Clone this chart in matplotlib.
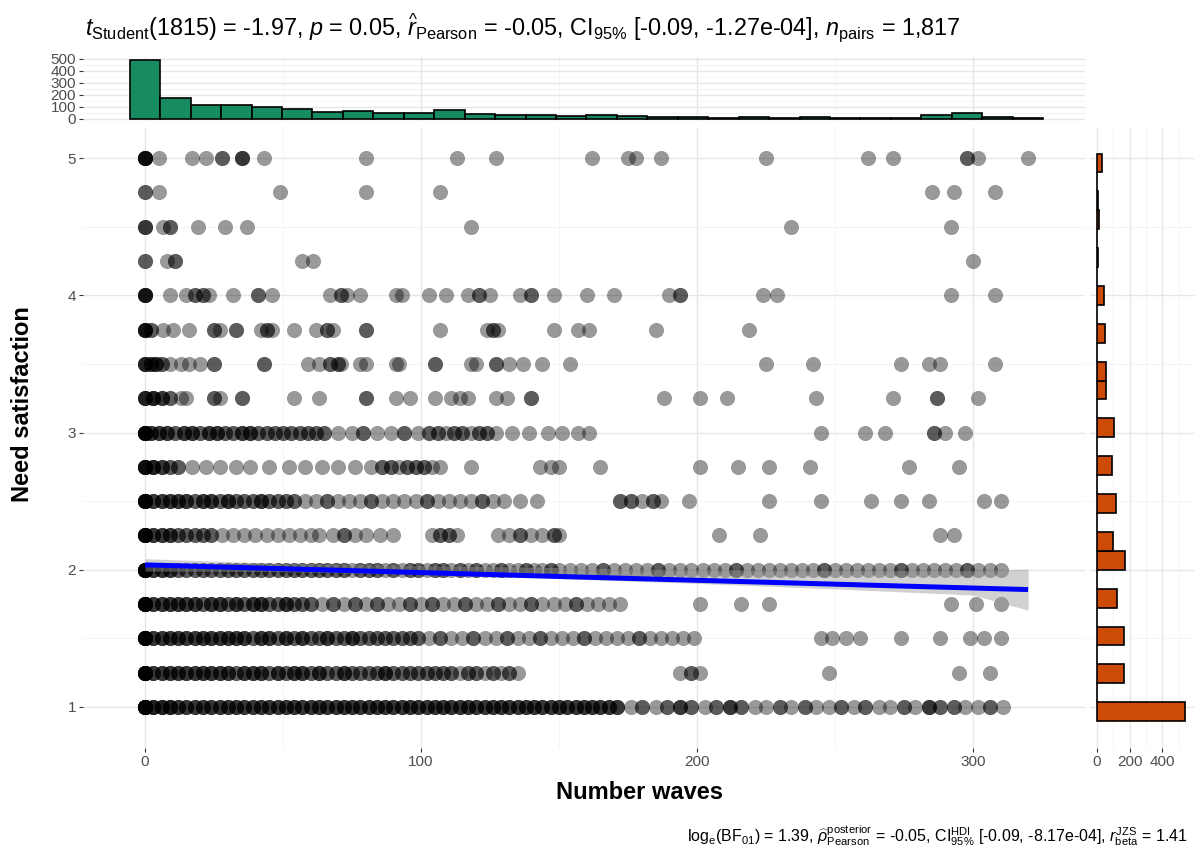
import numpy as np
import matplotlib

matplotlib.use("Agg")
import matplotlib.pyplot as plt  # noqa: E402

plt.rcParams["font.family"] = ["Liberation Sans", "DejaVu Sans"]
plt.rcParams["mathtext.fontset"] = "custom"
plt.rcParams["mathtext.rm"] = "Liberation Sans"
plt.rcParams["mathtext.it"] = "Liberation Sans:italic"
plt.rcParams["mathtext.bf"] = "Liberation Sans:bold"

# --- scatter rows: x positions (number waves) and how many points sit there ---
row_500_x = [0, 5, 17, 22, 28, 35, 43, 80, 113, 127, 162, 175, 178, 187, 225, 262, 271, 298, 302, 320]
row_500_n = [6, 1, 1, 1, 2, 3, 1, 1, 1, 1, 1, 1, 1, 1, 1, 1, 1, 2, 1, 1]
row_475_x = [0, 5, 49, 80, 107, 285, 293, 308]
row_475_n = [2, 1, 1, 1, 1, 1, 1, 1]
row_450_x = [0, 6.5, 9, 19, 29, 37, 118, 234, 292]
row_450_n = [3, 1, 2, 1, 1, 1, 1, 1, 1]
row_425_x = [0, 8, 11, 57, 61, 300]
row_425_n = [2, 1, 2, 1, 1, 1]
row_400_x = [0, 9, 15, 18, 21, 23, 32, 41, 46, 67, 71, 73, 78, 91, 93, 103, 109, 117, 121, 125,
             136, 140, 148, 160, 170, 190, 194, 224, 229, 292, 308]
row_400_n = [5, 1, 1, 2, 2, 1, 1, 2, 1, 1, 2, 1, 1, 1, 1, 1, 1, 1, 2, 1,
             1, 2, 1, 1, 1, 1, 2, 1, 1, 1, 1]
row_375_x = [0, 2, 6.5, 10, 16, 25, 27, 33, 42, 44, 46, 54, 62, 66, 68, 80, 107, 124, 126, 128,
             148, 157, 161, 185, 219]
row_375_n = [5, 2, 1, 1, 1, 2, 1, 2, 1, 2, 1, 1, 1, 2, 1, 2, 1, 1, 2, 1,
             1, 1, 1, 1, 1]
row_350_x = [0, 2, 4, 6, 9, 13, 16, 20, 25, 43, 59, 63, 67, 70, 71, 78, 80, 91, 92, 105,
             118, 120, 127, 132, 137, 144, 154, 225, 242, 274, 284, 288, 308]
row_350_n = [4, 3, 3, 2, 1, 1, 1, 1, 2, 2, 1, 1, 2, 2, 1, 1, 1, 1, 1, 2,
             1, 1, 2, 1, 1, 1, 1, 1, 1, 1, 1, 1, 1]
row_325_x = [0, 3, 6, 9, 13, 15, 25, 27, 35, 54, 63, 80, 91, 96, 105, 111, 114, 117, 127, 131,
             140, 188, 201, 211, 243, 271, 287, 302]
row_325_n = [4, 4, 3, 2, 1, 1, 2, 1, 2, 1, 1, 2, 1, 1, 1, 1, 1, 1, 1, 1,
             2, 1, 1, 1, 1, 1, 2, 1]
row_300_x = [0, 2, 5, 8, 11, 14, 17, 20, 23, 26, 29, 32, 35, 38, 41, 44, 47, 50, 53, 56,
             59, 62, 65, 70, 75, 79, 84, 89, 94, 99, 103, 106, 109, 112, 115, 118, 121, 124, 127, 133,
             139, 146, 151, 157, 161, 245, 261, 268, 286, 290, 297]
row_300_n = [8, 3, 3, 3, 2, 3, 3, 2, 3, 3, 2, 2, 3, 3, 2, 2, 2, 2, 2, 2,
             2, 2, 2, 1, 1, 2, 1, 1, 2, 1, 2, 2, 1, 2, 2, 1, 2, 2, 1, 1,
             1, 1, 1, 1, 1, 1, 1, 1, 2, 1, 1]
row_275_x = [0, 3, 6, 9, 12, 17, 22, 27, 33, 38, 45, 52, 58, 64, 70, 76, 82, 86, 89, 92,
             95, 98, 101, 104, 107, 118, 143, 147, 150, 165, 201, 215, 226, 241, 277, 295]
row_275_n = [6, 4, 3, 2, 2, 1, 1, 1, 1, 1, 1, 1, 1, 1, 1, 1, 1, 2, 2, 1,
             2, 2, 2, 1, 1, 1, 1, 1, 1, 1, 1, 1, 1, 1, 1, 1]
row_250_x = [0, 3, 6, 9, 12, 15, 18, 21, 24, 27, 30, 33, 36, 39, 42, 45, 48, 51, 54, 58,
             62, 66, 70, 74, 78, 82, 86, 90, 94, 98, 102, 106, 110, 114, 118, 122, 126, 130, 136, 142,
             172, 176, 180, 184, 187, 197, 226, 245, 263, 274, 284, 304, 310]
row_250_n = [8, 3, 3, 3, 3, 3, 2, 3, 3, 2, 3, 2, 2, 2, 3, 2, 2, 2, 2, 1,
             1, 2, 1, 1, 1, 2, 1, 1, 1, 1, 2, 1, 1, 1, 1, 2, 1, 1, 1, 1,
             2, 2, 1, 2, 1, 1, 1, 1, 1, 1, 1, 1, 1]
row_225_x = [0, 3, 6, 9, 12, 15, 18, 21, 24, 28, 32, 36, 40, 44, 48, 52, 56, 60, 63, 68,
             72, 76, 80, 85, 90, 104, 107, 110, 113, 128, 132, 136, 140, 144, 148, 150, 208, 223, 288, 293]
row_225_n = [8, 3, 3, 3, 2, 2, 2, 2, 2, 1, 1, 1, 1, 1, 1, 1, 1, 1, 1, 1,
             2, 1, 1, 1, 1, 1, 2, 2, 1, 1, 1, 2, 1, 1, 2, 1, 1, 1, 1, 1]
row_200_x = [0, 3, 6, 9, 12, 15, 18, 21, 24, 27, 30, 33, 36, 39, 42, 45, 48, 51, 54, 57,
             60, 63, 66, 69, 72, 75, 78, 81, 84, 87, 90, 93, 96, 99, 102, 105, 108, 111, 114, 117,
             120, 123, 126, 129, 132, 135, 138, 141, 144, 147, 150, 154, 158, 162, 166, 170, 174, 178, 182, 186,
             190, 194, 198, 202, 206, 210, 214, 218, 222, 226, 230, 234, 238, 242, 246, 250, 254, 258, 262, 266,
             270, 274, 278, 282, 286, 290, 294, 298, 302, 306, 310]
row_200_n = [10, 3, 3, 3, 2, 2, 2, 2, 2, 2, 2, 2, 2, 2, 2, 2, 2, 2, 2, 2,
             2, 2, 2, 2, 2, 1, 2, 2, 2, 1, 2, 1, 2, 2, 1, 2, 2, 1, 2, 1,
             2, 1, 1, 2, 1, 1, 2, 1, 1, 2, 1, 1, 1, 1, 2, 1, 1, 1, 1, 2,
             1, 1, 1, 1, 1, 1, 2, 1, 1, 1, 1, 1, 1, 1, 2, 1, 1, 1, 1, 1,
             1, 2, 1, 1, 1, 1, 1, 2, 1, 1, 1]
row_175_x = [0, 3, 6, 9, 12, 15, 18, 21, 24, 27, 30, 33, 36, 39, 42, 45, 48, 51, 54, 57,
             60, 64, 68, 72, 76, 80, 84, 88, 92, 96, 100, 104, 108, 112, 116, 120, 124, 128, 132, 136,
             140, 144, 148, 152, 156, 160, 164, 168, 172, 201, 216, 226, 292, 301, 310]
row_175_n = [10, 3, 3, 3, 3, 3, 3, 2, 3, 3, 2, 3, 2, 3, 3, 2, 2, 3, 2, 2,
             2, 1, 2, 1, 2, 1, 2, 1, 1, 2, 1, 2, 1, 1, 2, 1, 1, 2, 1, 1,
             2, 1, 1, 1, 2, 1, 1, 1, 1, 1, 1, 1, 1, 1, 1]
row_150_x = [0, 3, 6, 9, 12, 15, 18, 21, 24, 27, 30, 33, 36, 39, 42, 45, 48, 51, 54, 57,
             60, 63, 66, 69, 72, 75, 78, 81, 84, 87, 90, 93, 96, 99, 103, 107, 111, 115, 119, 123,
             127, 131, 135, 139, 143, 147, 151, 155, 159, 163, 167, 171, 175, 179, 183, 187, 191, 195, 199, 245,
             249, 254, 259, 274, 288, 299, 304, 310]
row_150_n = [10, 3, 3, 3, 3, 3, 3, 3, 3, 3, 3, 3, 3, 2, 3, 3, 2, 3, 2, 3,
             2, 2, 3, 2, 2, 3, 2, 2, 2, 2, 2, 2, 2, 2, 1, 2, 1, 1, 2, 1,
             1, 2, 1, 1, 2, 1, 1, 1, 2, 1, 1, 1, 1, 2, 1, 1, 1, 1, 1, 1,
             1, 1, 1, 1, 1, 1, 1, 1]
row_125_x = [0, 3, 6, 9, 12, 15, 18, 21, 24, 27, 30, 33, 36, 39, 42, 45, 48, 51, 54, 57,
             60, 63, 66, 69, 72, 75, 78, 81, 84, 87, 90, 93, 96, 99, 102, 105, 108, 111, 114, 117,
             120, 123, 126, 129, 132, 135, 194, 198, 201, 248, 295, 306]
row_125_n = [10, 3, 3, 3, 3, 3, 3, 3, 3, 3, 3, 2, 3, 3, 3, 2, 3, 2, 3, 3,
             2, 3, 2, 2, 3, 2, 2, 2, 2, 3, 2, 2, 2, 2, 2, 2, 2, 2, 1, 2,
             2, 1, 2, 1, 2, 1, 1, 2, 1, 1, 1, 1]
row_100_x = [0, 3, 6, 9, 12, 15, 18, 21, 24, 27, 30, 33, 36, 39, 42, 45, 48, 51, 54, 57,
             60, 63, 66, 69, 72, 75, 78, 81, 84, 87, 90, 93, 96, 99, 102, 105, 108, 111, 114, 117,
             120, 123, 126, 129, 132, 135, 138, 141, 144, 147, 150, 153, 156, 159, 162, 165, 168, 171, 176, 180,
             185, 189, 194, 198, 203, 207, 212, 216, 221, 225, 230, 234, 239, 243, 248, 252, 257, 261, 266, 270,
             275, 279, 284, 288, 293, 297, 302, 306, 311]
row_100_n = [12, 4, 4, 4, 3, 3, 3, 3, 3, 3, 3, 3, 3, 3, 3, 3, 3, 3, 3, 3,
             3, 3, 3, 3, 3, 3, 3, 3, 3, 3, 3, 3, 3, 3, 3, 3, 3, 3, 3, 3,
             3, 3, 3, 3, 3, 3, 3, 3, 3, 3, 3, 3, 3, 3, 3, 3, 3, 3, 1, 2,
             1, 2, 3, 2, 1, 2, 3, 2, 1, 1, 2, 1, 2, 1, 1, 2, 1, 2, 1, 1,
             2, 1, 3, 2, 2, 1, 1, 2, 1]

# --- marginal distributions ---
xhist_counts = [487, 174, 111, 117, 97, 83, 54, 60, 45, 45, 68, 40, 34, 34, 26,
                30, 20, 11, 11, 9, 17, 9, 17, 9, 9, 9, 34, 43, 14, 3]
xbin_width = 11.03
y_levels = [1.0, 1.25, 1.5, 1.75, 2.0, 2.25, 2.5, 2.75, 3.0, 3.25, 3.5, 3.75, 4.0, 4.25, 4.5, 4.75, 5.0]
y_counts = [540, 164, 164, 121, 170, 99, 119, 91, 105, 55, 55, 51, 42, 8, 11, 9, 32]
ybin_width = 4 / 29
ybin_origin = 0.896

# --- linear fit ---
fit_x = [0, 320]
fit_y = [2.035, 1.855]
band_x = [0, 50, 100, 150, 200, 250, 300, 320]
band_lo = [1.990, 1.985, 1.965, 1.935, 1.900, 1.860, 1.815, 1.705]
band_hi = [2.080, 2.045, 2.030, 2.015, 2.000, 1.995, 1.995, 2.005]

SUBTITLE = (r"$t_{\mathrm{Student}}$(1815) = -1.97, $p$ = 0.05, $\widehat{r}_{\mathrm{Pearson}}$ = -0.05, "
            r"CI$_{95\%}$ [-0.09, -1.27e-04], $n_{\mathrm{pairs}}$ = 1,817")
CAPTION = (r"log$_{\mathrm{e}}$(BF$_{01}$) = 1.39, $\widehat{\rho}_{\mathrm{Pearson}}^{\mathrm{posterior}}$ = -0.05, "
           r"CI$_{95\%}^{\mathrm{HDI}}$ [-0.09, -8.17e-04], $r_{\mathrm{beta}}^{\mathrm{JZS}}$ = 1.41")

GREEN = "#178c60"
ORANGE = "#cc4b07"
GRID_MAJ = "#e6e6e6"
GRID_MIN = "#f2f2f2"
TXT = "#4d4d4d"

rows = {
    5.0: (row_500_x, row_500_n), 4.75: (row_475_x, row_475_n), 4.5: (row_450_x, row_450_n),
    4.25: (row_425_x, row_425_n), 4.0: (row_400_x, row_400_n), 3.75: (row_375_x, row_375_n),
    3.5: (row_350_x, row_350_n), 3.25: (row_325_x, row_325_n), 3.0: (row_300_x, row_300_n),
    2.75: (row_275_x, row_275_n), 2.5: (row_250_x, row_250_n), 2.25: (row_225_x, row_225_n),
    2.0: (row_200_x, row_200_n), 1.75: (row_175_x, row_175_n), 1.5: (row_150_x, row_150_n),
    1.25: (row_125_x, row_125_n), 1.0: (row_100_x, row_100_n),
}

W, H = 1200, 847
fig = plt.figure(figsize=(W / 100, H / 100), dpi=100)


def box(x0, y0, x1, y1):
    """Pixel box (top-left origin) to figure fractions."""
    return [x0 / W, 1 - y1 / H, (x1 - x0) / W, (y1 - y0) / H]


ax = fig.add_axes(box(83, 128, 1085, 748))
ax_top = fig.add_axes(box(83, 57.5, 1085, 121.5))
ax_right = fig.add_axes(box(1090, 128, 1195, 748))

XLIM = (-22.5, 340.6)
YLIM = (0.7, 5.22)


def style(a):
    for s in a.spines.values():
        s.set_visible(False)
    a.grid(True, which="major", color=GRID_MAJ, linewidth=1.0, zorder=0)
    a.grid(True, which="minor", color=GRID_MIN, linewidth=0.6, zorder=0)
    a.set_axisbelow(True)
    a.tick_params(which="major", length=3, width=0.8, color="#333333",
                  labelcolor=TXT, labelsize=11, pad=2)
    a.tick_params(which="minor", length=0)


# main scatter
xs, ys = [], []
for level, (rx, rn) in rows.items():
    xs.append(np.repeat(rx, rn))
    ys.append(np.full(int(np.sum(rn)), level))
ax.scatter(np.concatenate(xs), np.concatenate(ys), s=118, color="black",
           alpha=0.4, linewidths=0, zorder=2)
ax.fill_between(band_x, band_lo, band_hi, color="#999999", alpha=0.45, linewidth=0, zorder=3)
ax.plot(fit_x, fit_y, color="#0000ff", linewidth=3.6, solid_capstyle="butt", zorder=4)
ax.set_xlim(*XLIM)
ax.set_ylim(*YLIM)
ax.set_xticks([0, 100, 200, 300])
ax.set_xticks([50, 150, 250], minor=True)
ax.set_yticks([1, 2, 3, 4, 5])
ax.set_yticks([1.5, 2.5, 3.5, 4.5], minor=True)
style(ax)

# top marginal histogram
xedges = (np.arange(len(xhist_counts) + 1) - 0.5) * xbin_width
xcenters = (xedges[:-1] + xedges[1:]) / 2
ax_top.hist(xcenters, bins=xedges, weights=xhist_counts, color=GREEN,
            edgecolor="black", linewidth=1.2, zorder=2)
ax_top.set_xlim(*XLIM)
ax_top.set_ylim(-24, 511)
ax_top.set_xticks([0, 100, 200, 300])
ax_top.set_xticks([50, 150, 250], minor=True)
ax_top.set_yticks([0, 100, 200, 300, 400, 500])
ax_top.set_yticks([50, 150, 250, 350, 450], minor=True)
style(ax_top)
ax_top.tick_params(axis="x", which="both", length=0, labelbottom=False)

# right marginal histogram
yedges = ybin_origin + np.arange(31) * ybin_width
ax_right.hist(y_levels, bins=yedges, weights=y_counts, orientation="horizontal",
              color=ORANGE, edgecolor="black", linewidth=1.2, zorder=2)
ax_right.set_ylim(*YLIM)
ax_right.set_xlim(-43, 601)
ax_right.set_xticks([0, 200, 400])
ax_right.set_xticks([100, 300, 500], minor=True)
ax_right.set_yticks([1, 2, 3, 4, 5])
ax_right.set_yticks([1.5, 2.5, 3.5, 4.5], minor=True)
style(ax_right)
ax_right.tick_params(axis="y", which="both", length=0, labelleft=False)

# texts
fig.text(85 / W, 1 - 28 / H, SUBTITLE, ha="left", va="center", fontsize=16.8, color="black")
fig.text(1188 / W, 1 - 836 / H, CAPTION, ha="right", va="center", fontsize=11.5, color="black")
fig.text(640 / W, 1 - 792 / H, "Number waves", ha="center", va="center",
         fontsize=17, fontweight="bold")
fig.text(23 / W, 1 - 404 / H, "Need satisfaction", ha="center", va="center",
         fontsize=17, fontweight="bold", rotation=90)

fig.savefig("out.png", dpi=100, facecolor="white")
